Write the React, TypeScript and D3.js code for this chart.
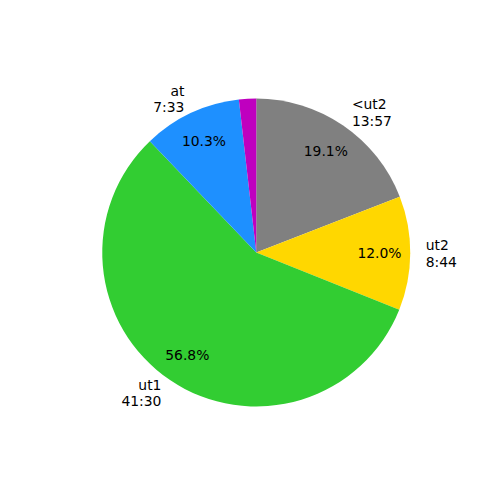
import React from "react";
import * as d3 from "d3";

const labels = ["<ut2", "ut2", "ut1", "at", ""];
const times = ["13:57", "8:44", "41:30", "7:33", ""];
const seconds = [837, 524, 2490, 453, 79];
const colors = ["#808080", "#FFD700", "#32CD32", "#1E90FF", "#BF00BF"];

export default function App() {
  const W = 500, H = 500;
  const cx = 256.25, cy = 252.5, R = 154;
  const total = d3.sum(seconds);
  const pie = d3.pie<number>().sort(null).startAngle(0).endAngle(2 * Math.PI);
  const arcs = pie(seconds);
  const arc = d3.arc<d3.PieArcDatum<number>>().innerRadius(0).outerRadius(R);
  const fs = 13.9;
  const lh = fs * 1.2;
  return (
    <svg width={W} height={H} style={{ position: "absolute", left: 0, top: 0 }}
      fontFamily="DejaVu Sans" fontSize={fs}>
      <rect width={W} height={H} fill="white" />
      <g transform={`translate(${cx},${cy})`}>
        {arcs.map((a, i) => (
          <path key={i} d={arc(a) || ""} fill={colors[i]} />
        ))}
        {arcs.map((a, i) => {
          const mid = (a.startAngle + a.endAngle) / 2;
          const sx = Math.sin(mid), sy = -Math.cos(mid);
          const pct = (seconds[i] / total) * 100;
          const lx = 1.1 * R * sx, ly = 1.1 * R * sy;
          const px = 0.8 * R * sx, py = 0.8 * R * sy;
          const lines = labels[i] ? [labels[i], times[i]] : [];
          const anchor = sx > 0 ? "start" : "end";
          return (
            <g key={"t" + i}>
              {labels[i] && (
                <text x={px} y={py} textAnchor="middle" dominantBaseline="central" fill="black">
                  {pct.toFixed(1) + "%"}
                </text>
              )}
              {lines.map((t, j) => (
                <text key={j} x={lx} y={ly + (j - (lines.length - 1) / 2) * lh}
                  textAnchor={anchor} dominantBaseline="central" fill="black">
                  {t}
                </text>
              ))}
            </g>
          );
        })}
      </g>
    </svg>
  );
}
